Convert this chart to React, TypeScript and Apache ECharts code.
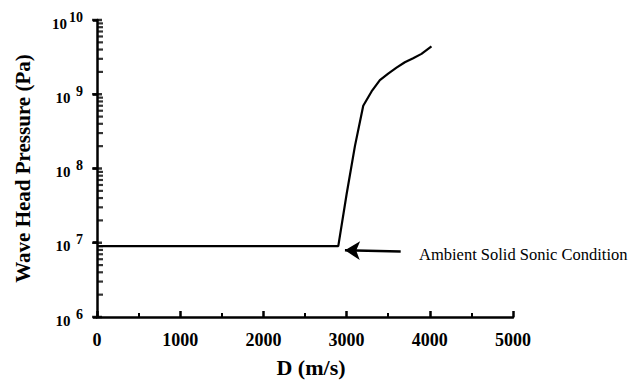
import React, { useEffect, useRef } from "react";
import * as echarts from "echarts";

const speedD = [0, 2900, 3000, 3100, 3200, 3300, 3400, 3500, 3600, 3700, 3800, 3900, 4020];
const pressure = [9e6, 9e6, 4.5e7, 2.0e8, 7.0e8, 1.09e9, 1.55e9, 1.9e9, 2.28e9, 2.7e9, 3.06e9, 3.5e9, 4.4e9];
const xTicks = [0, 1000, 2000, 3000, 4000, 5000];
const yDecades = [6, 7, 8, 9, 10];
const yMinorTicks: number[] = [];
for (let d = 6; d <= 9; d++) for (let k = 2; k <= 9; k++) yMinorTicks.push(k * Math.pow(10, d));
const yMajorTicks = yDecades.map((e) => Math.pow(10, e));
const annotationText = "Ambient Solid Sonic Condition";
const arrowTail = [3650, 7.6e6];
const arrowTip = [2980, 7.9e6];
const textAnchor = [3870, 6.9e6];

const SERIF = "'Liberation Serif', 'DejaVu Serif', serif";

export default function App() {
  const ref = useRef<HTMLDivElement>(null);
  useEffect(() => {
    const chart = echarts.init(ref.current!, null, { renderer: "svg" });
    chart.setOption({
      animation: false,
      backgroundColor: "#fff",
      grid: { left: 97, right: 121, top: 20, bottom: 64, containLabel: false },
      xAxis: {
        type: "value",
        min: 0,
        max: 5000,
        interval: 1000,
        name: "D (m/s)",
        nameLocation: "middle",
        nameGap: 39,
        nameTextStyle: { fontFamily: SERIF, fontWeight: "bold", fontSize: 22, color: "#000", padding: [0, 0, 0, 12] },
        axisLine: { show: true, lineStyle: { color: "#000", width: 2.5 } },
        axisTick: { show: true, inside: true, length: 6, lineStyle: { color: "#000", width: 2.5 } },
        minorTick: { show: true, splitNumber: 2, length: 4, lineStyle: { color: "#000", width: 2 } },
        axisLabel: {
          fontFamily: SERIF, fontWeight: "bold", fontSize: 18, color: "#000", margin: 14,
          formatter: (v: number) => (xTicks.includes(v) ? String(v) : ""),
        },
        splitLine: { show: false },
      },
      yAxis: {
        type: "log",
        logBase: 10,
        min: 1e6,
        max: 1e10,
        name: "Wave Head Pressure (Pa)",
        nameLocation: "middle",
        nameGap: 64,
        nameTextStyle: { fontFamily: SERIF, fontWeight: "bold", fontSize: 21, color: "#000" },
        axisLine: { show: true, lineStyle: { color: "#000", width: 2.5 } },
        axisTick: { show: true, inside: false, length: 4, lineStyle: { color: "#000", width: 2.5 } },
        axisLabel: {
          margin: 14,
          formatter: (v: number) => {
            const e = Math.round(Math.log10(v));
            if (!yDecades.includes(e)) return "";
            return "{b|10}{s|" + (e < 10 ? " " : "") + e + "}";
          },
          rich: {
            b: { fontFamily: SERIF, fontWeight: "bold", fontSize: 15, color: "#000", padding: [7, 0, 0, 0] },
            s: { fontFamily: SERIF, fontWeight: "bold", fontSize: 14, color: "#000", padding: [0, 0, 6, 2] },
          },
        },
        splitLine: { show: false },
      },
      series: [
        {
          type: "line",
          data: speedD.map((d, i) => [d, pressure[i]]),
          showSymbol: false,
          symbol: "none",
          lineStyle: { color: "#000", width: 2.2 },
          markLine: {
            silent: true,
            symbol: ["none", "arrow"],
            symbolSize: [14, 15],
            lineStyle: { color: "#000", width: 2.5, type: "solid" },
            label: { show: false },
            data: [[{ coord: arrowTail }, { coord: arrowTip }]],
          },
          markPoint: {
            silent: true,
            symbol: "circle",
            symbolSize: 0,
            label: {
              show: true,
              position: "right",
              distance: 0,
              formatter: annotationText,
              fontFamily: SERIF,
              fontSize: 16.5,
              color: "#000",
            },
            data: [{ coord: textAnchor }],
          },
        },
        {
          type: "scatter",
          silent: true,
          clip: false,
          z: 10,
          data: yMinorTicks.map((v) => [0, v]),
          symbol: "rect",
          symbolSize: [6, 2.2],
          symbolOffset: [3, 0],
          itemStyle: { color: "#000" },
        },
        {
          type: "scatter",
          silent: true,
          clip: false,
          z: 10,
          data: yMajorTicks.map((v) => [0, v]),
          symbol: "rect",
          symbolSize: [10, 2.5],
          itemStyle: { color: "#000" },
        },
      ],
    });
    return () => chart.dispose();
  }, []);
  return <div ref={ref} style={{ width: 634, height: 383, position: "absolute", left: 0, top: 0 }} />;
}
